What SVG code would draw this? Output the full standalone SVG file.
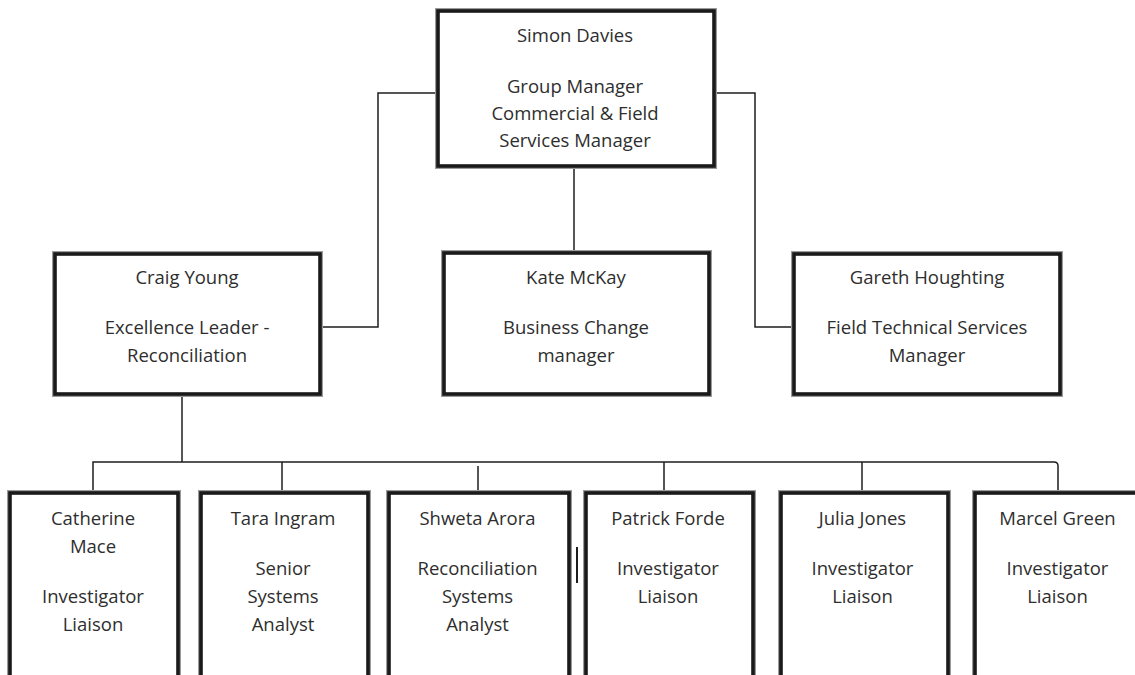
<svg xmlns="http://www.w3.org/2000/svg" width="1135" height="675" viewBox="0 0 1135 675">
<style>
.halo{fill:none;stroke:#9a9a9a;stroke-width:6}
.box{fill:#fff;stroke:#1a1a1a;stroke-width:3.6}
.t{font-family:"Open Sans","Noto Sans",sans-serif;font-size:18.5px;fill:#2e2e2e;text-anchor:middle}
.c{fill:none;stroke:#1e1e1e;stroke-width:1.5}
</style>
<rect width="1135" height="675" fill="#fff"/>
<g id="connectors">
<path class="c" d="M436,93 H378 V327 H322"/>
<path class="c" d="M574,168 V251"/>
<path class="c" d="M716,93 H755 V327 H792"/>
<path class="c" d="M182,395 V462"/>
<path class="c" d="M93,491 V462 H1054 Q1058,462 1058,466 V491"/>
<path class="c" d="M282,462 V491"/>
<path class="c" d="M478,466 V491"/>
<path class="c" d="M664,462 V491"/>
<path class="c" d="M862,462 V491"/>
<path class="c" d="M577,547 V583" style="stroke-width:2"/>
</g>
<g id="simon">
<rect class="halo" x="438" y="11" width="276" height="155"/>
<rect class="box" x="438" y="11" width="276" height="155"/>
<text class="t" x="575" y="42">Simon Davies</text>
<text class="t" x="575" y="92.5">Group Manager</text>
<text class="t" x="575" y="120">Commercial &amp; Field</text>
<text class="t" x="575" y="147">Services Manager</text>
</g>
<g id="craig">
<rect class="halo" x="55" y="254" width="265" height="140"/>
<rect class="box" x="55" y="254" width="265" height="140"/>
<text class="t" x="187" y="284">Craig Young</text>
<text class="t" x="187" y="334">Excellence Leader -</text>
<text class="t" x="187" y="361.5">Reconciliation</text>
</g>
<g id="kate">
<rect class="halo" x="444" y="253" width="265" height="141"/>
<rect class="box" x="444" y="253" width="265" height="141"/>
<text class="t" x="576" y="284">Kate McKay</text>
<text class="t" x="576" y="334">Business Change</text>
<text class="t" x="576" y="361.5">manager</text>
</g>
<g id="gareth">
<rect class="halo" x="794" y="254" width="266" height="140"/>
<rect class="box" x="794" y="254" width="266" height="140"/>
<text class="t" x="927" y="284">Gareth Houghting</text>
<text class="t" x="927" y="334">Field Technical Services</text>
<text class="t" x="927" y="361.5">Manager</text>
</g>
<g id="catherine">
<rect class="halo" x="10" y="493" width="168" height="184"/>
<rect class="box" x="10" y="493" width="168" height="184"/>
<text class="t" x="93" y="525">Catherine</text>
<text class="t" x="93" y="553">Mace</text>
<text class="t" x="93" y="603">Investigator</text>
<text class="t" x="93" y="631">Liaison</text>
</g>
<g id="tara">
<rect class="halo" x="201" y="493" width="167" height="184"/>
<rect class="box" x="201" y="493" width="167" height="184"/>
<text class="t" x="283" y="525">Tara Ingram</text>
<text class="t" x="283" y="575">Senior</text>
<text class="t" x="283" y="603">Systems</text>
<text class="t" x="283" y="631">Analyst</text>
</g>
<g id="shweta">
<rect class="halo" x="389" y="493" width="180" height="184"/>
<rect class="box" x="389" y="493" width="180" height="184"/>
<text class="t" x="477.5" y="525">Shweta Arora</text>
<text class="t" x="477.5" y="575">Reconciliation</text>
<text class="t" x="477.5" y="603">Systems</text>
<text class="t" x="477.5" y="631">Analyst</text>
</g>
<g id="patrick">
<rect class="halo" x="586" y="493" width="167" height="184"/>
<rect class="box" x="586" y="493" width="167" height="184"/>
<text class="t" x="668" y="525">Patrick Forde</text>
<text class="t" x="668" y="575">Investigator</text>
<text class="t" x="668" y="603">Liaison</text>
</g>
<g id="julia">
<rect class="halo" x="781" y="493" width="167" height="184"/>
<rect class="box" x="781" y="493" width="167" height="184"/>
<text class="t" x="862.5" y="525">Julia Jones</text>
<text class="t" x="862.5" y="575">Investigator</text>
<text class="t" x="862.5" y="603">Liaison</text>
</g>
<g id="marcel">
<rect class="halo" x="975" y="493" width="170" height="184"/>
<rect class="box" x="975" y="493" width="170" height="184"/>
<text class="t" x="1057.5" y="525">Marcel Green</text>
<text class="t" x="1057.5" y="575">Investigator</text>
<text class="t" x="1057.5" y="603">Liaison</text>
</g>
</svg>
